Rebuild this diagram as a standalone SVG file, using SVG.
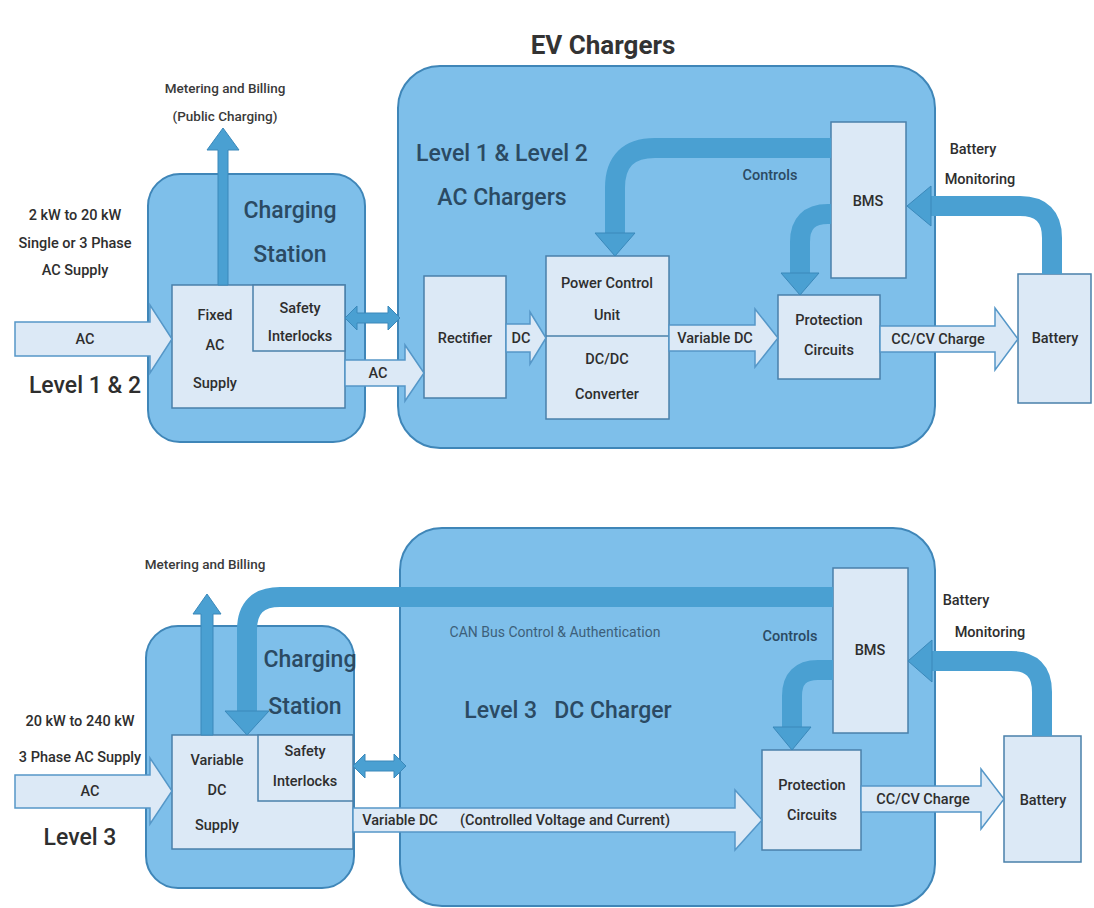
<svg xmlns="http://www.w3.org/2000/svg" width="1094" height="908" viewBox="0 0 1094 908">
<defs>
<style>
text{font-family:Roboto,"Liberation Sans",Arial,sans-serif;fill:#2e2e2e;text-anchor:middle;font-weight:500}
.big{font-size:23px;fill:#2b4a63}
.lvl{font-size:23px;fill:#2e2e2e}
.lbl{font-size:14.5px}
.sm{font-size:13.5px;fill:#3a3a3a}
.ctl{font-size:14.5px;fill:#2b4a63}
.container{fill:#7ebfea;stroke:#3f86b8;stroke-width:2}
.box{fill:#dce9f6;stroke:#4a80aa;stroke-width:1.5}
.flow{fill:#dce9f6;stroke:#5597c8;stroke-width:1.5}
.thick{fill:none;stroke:#4aa0d2;stroke-width:20}
.head{fill:#4aa0d2;stroke:#3a88ba;stroke-width:1}
.dbl{fill:#4aa0d2;stroke:#3a88ba;stroke-width:1}
</style>
</defs>
<rect width="1094" height="908" fill="#fff"/>
<text x="603" y="54" style="font-size:26px;font-weight:700;fill:#333">EV Chargers</text>

<!-- TOP SECTION -->
<g id="top-station-container"><rect class="container" x="148" y="174" width="217" height="268" rx="32"/></g>
<g id="top-charger-container"><rect class="container" x="398" y="66" width="537" height="382" rx="42"/></g>
<g id="top-labels">
<text class="sm" x="225" y="93">Metering and Billing</text>
<text class="sm" x="225" y="121">(Public Charging)</text>
<text class="big" x="290" y="218">Charging</text>
<text class="big" x="290" y="262">Station</text>
<text class="lbl" x="75" y="220">2 kW to 20 kW</text>
<text class="lbl" x="75" y="248">Single or 3 Phase</text>
<text class="lbl" x="75" y="275">AC Supply</text>
<text class="lvl" x="85" y="393">Level 1 &amp; 2</text>
<text class="big" x="502" y="161">Level 1 &amp; Level 2</text>
<text class="big" x="502" y="205">AC Chargers</text>
<text class="ctl" x="770" y="180">Controls</text>
<text class="lbl" x="973" y="154">Battery</text>
<text class="lbl" x="980" y="184">Monitoring</text>
</g>
<g id="top-fixed-ac-supply">
<rect class="box" x="172" y="285" width="173" height="123"/>
<text class="lbl" x="215" y="320">Fixed</text>
<text class="lbl" x="215" y="350">AC</text>
<text class="lbl" x="215" y="388">Supply</text>
</g>
<g id="top-safety-interlocks">
<rect class="box" x="253" y="285" width="92" height="66"/>
<text class="lbl" x="300" y="313">Safety</text>
<text class="lbl" x="300" y="341">Interlocks</text>
</g>
<g id="top-rectifier">
<rect class="box" x="424" y="276" width="82" height="122"/>
<text class="lbl" x="465" y="343">Rectifier</text>
</g>
<g id="top-pcu">
<rect class="box" x="546" y="256" width="123" height="163"/>
<line x1="546" y1="336" x2="669" y2="336" stroke="#4a80aa" stroke-width="1.5"/>
<text class="lbl" x="607" y="288">Power Control</text>
<text class="lbl" x="607" y="320">Unit</text>
<text class="lbl" x="607" y="364">DC/DC</text>
<text class="lbl" x="607" y="399">Converter</text>
</g>
<g id="top-bms">
<rect class="box" x="831" y="122" width="75" height="156"/>
<text class="lbl" x="868" y="206">BMS</text>
</g>
<g id="top-protection">
<rect class="box" x="778" y="295" width="102" height="84"/>
<text class="lbl" x="829" y="325">Protection</text>
<text class="lbl" x="829" y="355">Circuits</text>
</g>
<g id="top-battery">
<rect class="box" x="1018" y="274" width="73" height="129"/>
<text class="lbl" x="1055" y="343">Battery</text>
</g>

<!-- BOTTOM SECTION -->
<g id="bot-station-container"><rect class="container" x="146" y="626" width="208" height="262" rx="32"/></g>
<g id="bot-charger-container"><rect class="container" x="400" y="528" width="535" height="378" rx="42"/></g>
<g id="bot-labels">
<text class="sm" x="205" y="569">Metering and Billing</text>
<text class="big" x="310" y="667">Charging</text>
<text class="big" x="305" y="714">Station</text>
<text class="lbl" x="80" y="726">20 kW to 240 kW</text>
<text class="lbl" x="80" y="762">3 Phase AC Supply</text>
<text class="lvl" x="80" y="845">Level 3</text>
<text x="555" y="637" style="font-size:14px;font-weight:400;fill:#3d5f7a">CAN Bus Control &amp; Authentication</text>
<text class="big" x="568" y="718" xml:space="preserve">Level 3   DC Charger</text>
<text class="ctl" x="790" y="641">Controls</text>
<text class="lbl" x="966" y="605">Battery</text>
<text class="lbl" x="990" y="637">Monitoring</text>
</g>
<g id="bot-variable-dc-supply">
<rect class="box" x="172" y="735" width="181" height="114"/>
<text class="lbl" x="217" y="765">Variable</text>
<text class="lbl" x="217" y="795">DC</text>
<text class="lbl" x="217" y="830">Supply</text>
</g>
<g id="bot-safety-interlocks">
<rect class="box" x="258" y="735" width="95" height="66"/>
<text class="lbl" x="305" y="756">Safety</text>
<text class="lbl" x="305" y="786">Interlocks</text>
</g>
<g id="bot-bms">
<rect class="box" x="833" y="568" width="75" height="165"/>
<text class="lbl" x="870" y="655">BMS</text>
</g>
<g id="bot-protection">
<rect class="box" x="762" y="750" width="99" height="100"/>
<text class="lbl" x="812" y="790">Protection</text>
<text class="lbl" x="812" y="820">Circuits</text>
</g>
<g id="bot-battery">
<rect class="box" x="1004" y="736" width="77" height="126"/>
<text class="lbl" x="1043" y="805">Battery</text>
</g>

<!-- CONNECTORS -->
<g id="connectors">
<!-- top -->
<polygon class="flow" points="15,322 150,322 150,305 172,339 150,373 150,356 15,356"/>
<text class="lbl" x="85" y="344">AC</text>
<path class="head" d="M218,285 V150 H207 L223,128 L239,150 H228 V285 Z"/>
<polygon class="dbl" points="345,318 357,306 357,313 388,313 388,306 400,318 388,330 388,323 357,323 357,330"/>
<polygon class="flow" points="345,360 405,360 405,345 424,373 405,401 405,386 345,386"/>
<text class="lbl" x="378" y="378">AC</text>
<polygon class="flow" points="506,324 530,324 530,312 546,338 530,364 530,352 506,352"/>
<text class="lbl" x="521" y="343">DC</text>
<polygon class="flow" points="669,325 755,325 755,309 778,338 755,367 755,351 669,351"/>
<text class="lbl" x="715" y="343">Variable  DC</text>
<polygon class="flow" points="880,326 995,326 995,308 1018,339 995,370 995,352 880,352"/>
<text class="lbl" x="938" y="344">CC/CV Charge</text>
<path class="thick" d="M831,148 H655 Q615,148 615,188 V234"/>
<polygon class="head" points="595,233 635,233 615,256"/>
<path class="thick" d="M831,214 H828 Q800,214 800,242 V274"/>
<polygon class="head" points="781,273 819,273 800,295"/>
<path class="thick" d="M1052,274 V238 Q1052,206 1020,206 H930"/>
<polygon class="head" points="931,186 931,226 907,206"/>
<!-- bottom -->
<polygon class="flow" points="15,775 150,775 150,758 172,791 150,824 150,808 15,808"/>
<text class="lbl" x="90" y="796">AC</text>
<path class="head" d="M201,735 V614 H193 L207,594 L221,614 H213 V735 Z"/>
<path class="thick" d="M833,597 H280 Q247,597 247,630 V712"/>
<polygon class="head" points="225,711 269,711 247,735"/>
<polygon class="dbl" points="353,766 365,754 365,761 394,761 394,754 406,766 394,778 394,771 365,771 365,778"/>
<polygon class="flow" points="353,808 735,808 735,790 762,820 735,850 735,832 353,832"/>
<text class="lbl" x="400" y="825">Variable DC</text>
<text class="lbl" x="565" y="825">(Controlled Voltage and Current)</text>
<path class="thick" d="M833,670 H818 Q792,670 792,696 V728"/>
<polygon class="head" points="773,727 811,727 792,750"/>
<polygon class="flow" points="861,786 981,786 981,769 1004,799 981,829 981,812 861,812"/>
<text class="lbl" x="923" y="804">CC/CV Charge</text>
<path class="thick" d="M1042,736 V692 Q1042,661 1011,661 H931"/>
<polygon class="head" points="932,640 932,682 908,661"/>
</g>
</svg>
